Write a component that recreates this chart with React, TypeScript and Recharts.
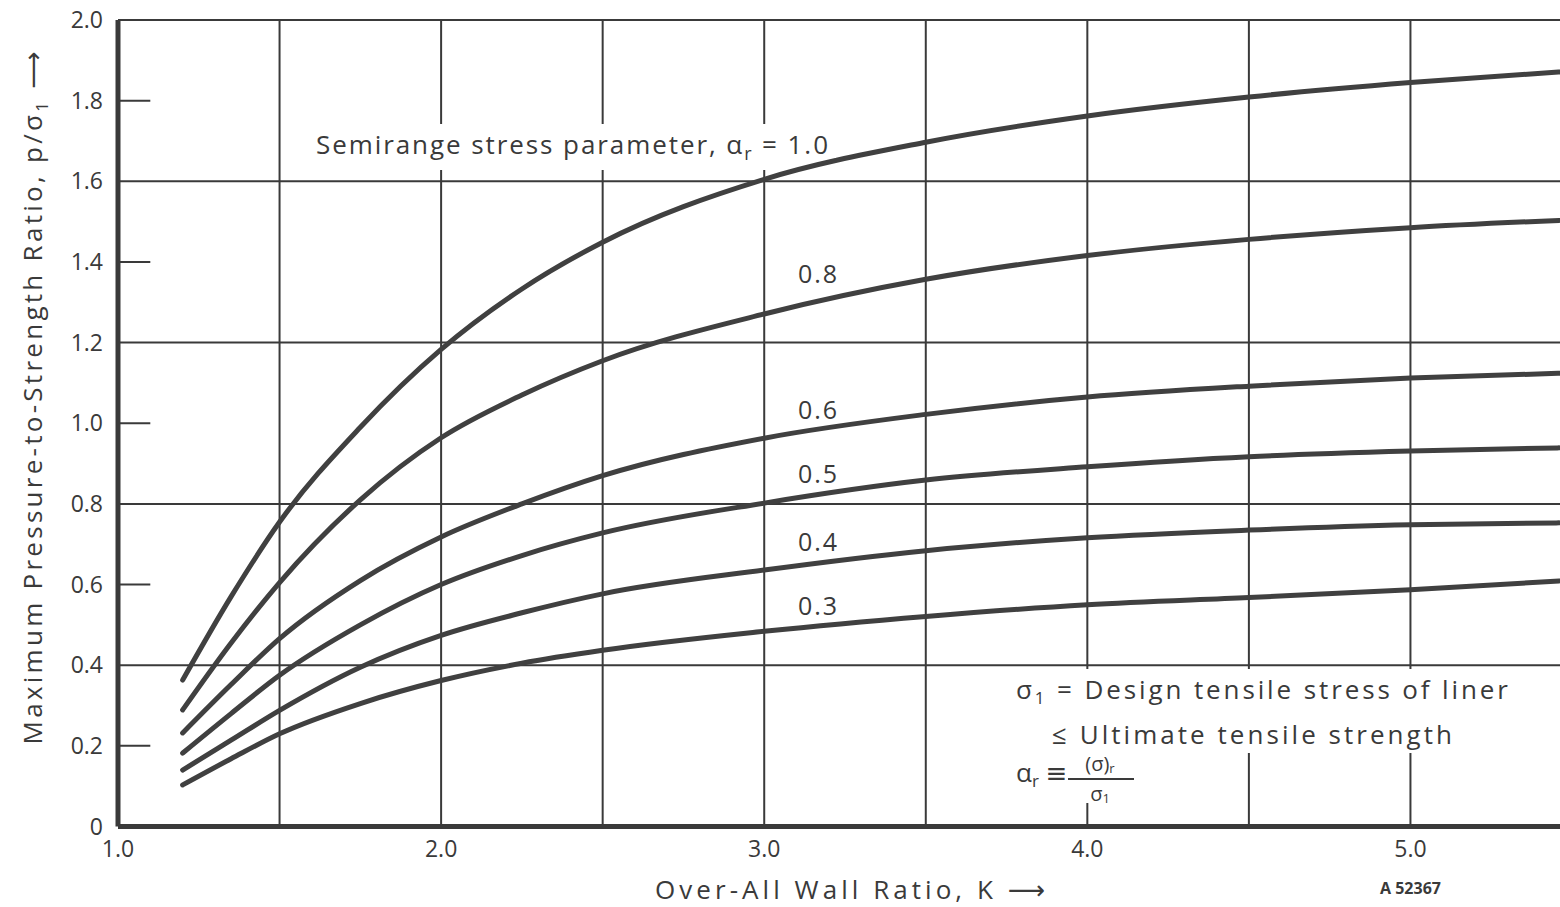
import { LineChart, Line, XAxis, YAxis, CartesianGrid, ReferenceLine } from "recharts";

// over-all wall ratio K, and p/sigma1 (semirange stress parameter)
const K = [1.2, 1.35, 1.5, 1.75, 2.0, 2.25, 2.5, 3.0, 3.5, 4.0, 4.5, 5.0, 5.46];
const a10 = [0.363, 0.57, 0.755, 0.99, 1.183, 1.333, 1.449, 1.605, 1.697, 1.762, 1.809, 1.845, 1.871];
const a08 = [0.289, 0.455, 0.605, 0.81, 0.964, 1.07, 1.155, 1.271, 1.357, 1.416, 1.456, 1.485, 1.503];
const a06 = [0.232, 0.352, 0.466, 0.61, 0.718, 0.8, 0.87, 0.963, 1.022, 1.065, 1.092, 1.112, 1.124];
const a05 = [0.182, 0.28, 0.375, 0.5, 0.6, 0.672, 0.728, 0.802, 0.859, 0.892, 0.917, 0.931, 0.939];
const a04 = [0.14, 0.214, 0.288, 0.395, 0.474, 0.53, 0.577, 0.636, 0.684, 0.716, 0.735, 0.748, 0.753];
const a03 = [0.103, 0.168, 0.23, 0.305, 0.362, 0.405, 0.437, 0.484, 0.521, 0.55, 0.568, 0.587, 0.609];

const xTicks = [1, 2, 3, 4, 5];
const yTicks = [0, 0.2, 0.4, 0.6, 0.8, 1.0, 1.2, 1.4, 1.6, 1.8, 2.0];
const xGrid = [1.5, 2, 2.5, 3, 3.5, 4, 4.5, 5];
const yGrid = [0.4, 0.8, 1.2, 1.6, 2.0];
const yShortTicks = [0.2, 0.6, 1.0, 1.4, 1.8];

const seriesKeys = ["a10", "a08", "a06", "a05", "a04", "a03"];

const data = K.map((k, i) => ({
  k,
  a10: a10[i],
  a08: a08[i],
  a06: a06[i],
  a05: a05[i],
  a04: a04[i],
  a03: a03[i],
}));

const INK = "#3a3a3a";
const FONT = "'Open Sans', 'DejaVu Sans', sans-serif";

function Annotations() {
  return (
    <svg
      width={1560}
      height={907}
      style={{ position: "absolute", left: 0, top: 0, pointerEvents: "none" }}
      fontFamily={FONT}
      fill={INK}
    >
      {/* axis titles */}
      <text
        x={42}
        y={398}
        fontSize={26}
        textAnchor="middle"
        transform="rotate(-90 42 398)"
        textLength={693}
        lengthAdjust="spacing"
      >
        Maximum Pressure-to-Strength Ratio, p/σ
        <tspan fontSize={17} dy={6}>1</tspan>
        <tspan dy={-6}> ⟶</tspan>
      </text>
      <text x={655} y={899} fontSize={26} textLength={390} lengthAdjust="spacing">
        Over-All Wall Ratio, K ⟶
      </text>
      <text x={1380} y={894} fontSize={16} fontWeight="bold">
        A 52367
      </text>

      {/* white blocks behind the lettering, the grid is broken there */}
      <rect x={306} y={124} width={464} height={46} fill="#fff" />
      <rect x={770} y={124} width={66} height={34} fill="#fff" />
      <rect x={1008} y={669} width={508} height={84} fill="#fff" />
      <rect x={1008} y={753} width={132} height={50} fill="#fff" />

      {/* curve labels */}
      <text x={316} y={154} fontSize={26} textLength={512} lengthAdjust="spacing">
        Semirange stress parameter, α
        <tspan fontSize={18} dy={6}>r</tspan>
        <tspan dy={-6}> = 1.0</tspan>
      </text>
      <text x={798} y={283} fontSize={25} letterSpacing={2}>0.8</text>
      <text x={798} y={419} fontSize={25} letterSpacing={2}>0.6</text>
      <text x={798} y={483} fontSize={25} letterSpacing={2}>0.5</text>
      <text x={798} y={551} fontSize={25} letterSpacing={2}>0.4</text>
      <text x={798} y={615} fontSize={25} letterSpacing={2}>0.3</text>

      {/* definitions */}
      <text x={1016} y={699} fontSize={26} textLength={492} lengthAdjust="spacing">
        σ<tspan fontSize={17} dy={5}>1</tspan>
        <tspan dy={-5}> = Design tensile stress of liner</tspan>
      </text>
      <text x={1052} y={744} fontSize={26} textLength={400} lengthAdjust="spacing">
        ≤ Ultimate tensile strength
      </text>
      <text x={1016} y={782} fontSize={26}>
        α<tspan fontSize={17} dy={5}>r</tspan>
        <tspan dy={-5}> ≡</tspan>
      </text>
      <text x={1100} y={771} fontSize={20} textAnchor="middle">
        (σ)<tspan fontSize={13} dy={2}>r</tspan>
      </text>
      <line x1={1068} x2={1134} y1={779} y2={779} stroke={INK} strokeWidth={2} />
      <text x={1100} y={801} fontSize={20} textAnchor="middle">
        σ<tspan fontSize={13} dy={2}>1</tspan>
      </text>
    </svg>
  );
}

export default function App() {
  return (
    <div
      style={{
        position: "absolute",
        left: 0,
        top: 0,
        width: 1560,
        height: 907,
        overflow: "hidden",
        background: "#fff",
      }}
    >
      <LineChart
        width={1572}
        height={907}
        data={data}
        margin={{ top: 20, right: 0, bottom: 0, left: 0 }}
        style={{ fontFamily: FONT }}
      >
        <CartesianGrid
          stroke={INK}
          strokeWidth={2}
          verticalValues={xGrid}
          horizontalValues={yGrid}
        />
        {yShortTicks.map((v) => (
          <ReferenceLine
            key={v}
            segment={[
              { x: 1, y: v },
              { x: 1.1, y: v },
            ]}
            stroke={INK}
            strokeWidth={2}
          />
        ))}
        <XAxis
          type="number"
          dataKey="k"
          domain={[1, 5.5]}
          ticks={xTicks}
          tickFormatter={(v: number) => v.toFixed(1)}
          tickLine={false}
          tickSize={0}
          tickMargin={14}
          height={80.5}
          axisLine={{ stroke: INK, strokeWidth: 5 }}
          tick={{ fontSize: 23, fill: INK }}
        />
        <YAxis
          type="number"
          domain={[0, 2]}
          ticks={yTicks}
          tickFormatter={(v: number) => (v === 0 ? "0" : v.toFixed(1))}
          tickLine={false}
          tickSize={0}
          tickMargin={15}
          width={118}
          axisLine={{ stroke: INK, strokeWidth: 5 }}
          tick={{ fontSize: 23, fill: INK }}
        />
        {seriesKeys.map((key) => (
          <Line
            key={key}
            dataKey={key}
            type="monotone"
            stroke="#404040"
            strokeWidth={5}
            strokeLinecap="round"
            dot={false}
            activeDot={false}
            isAnimationActive={false}
          />
        ))}
      </LineChart>
      <Annotations />
    </div>
  );
}
